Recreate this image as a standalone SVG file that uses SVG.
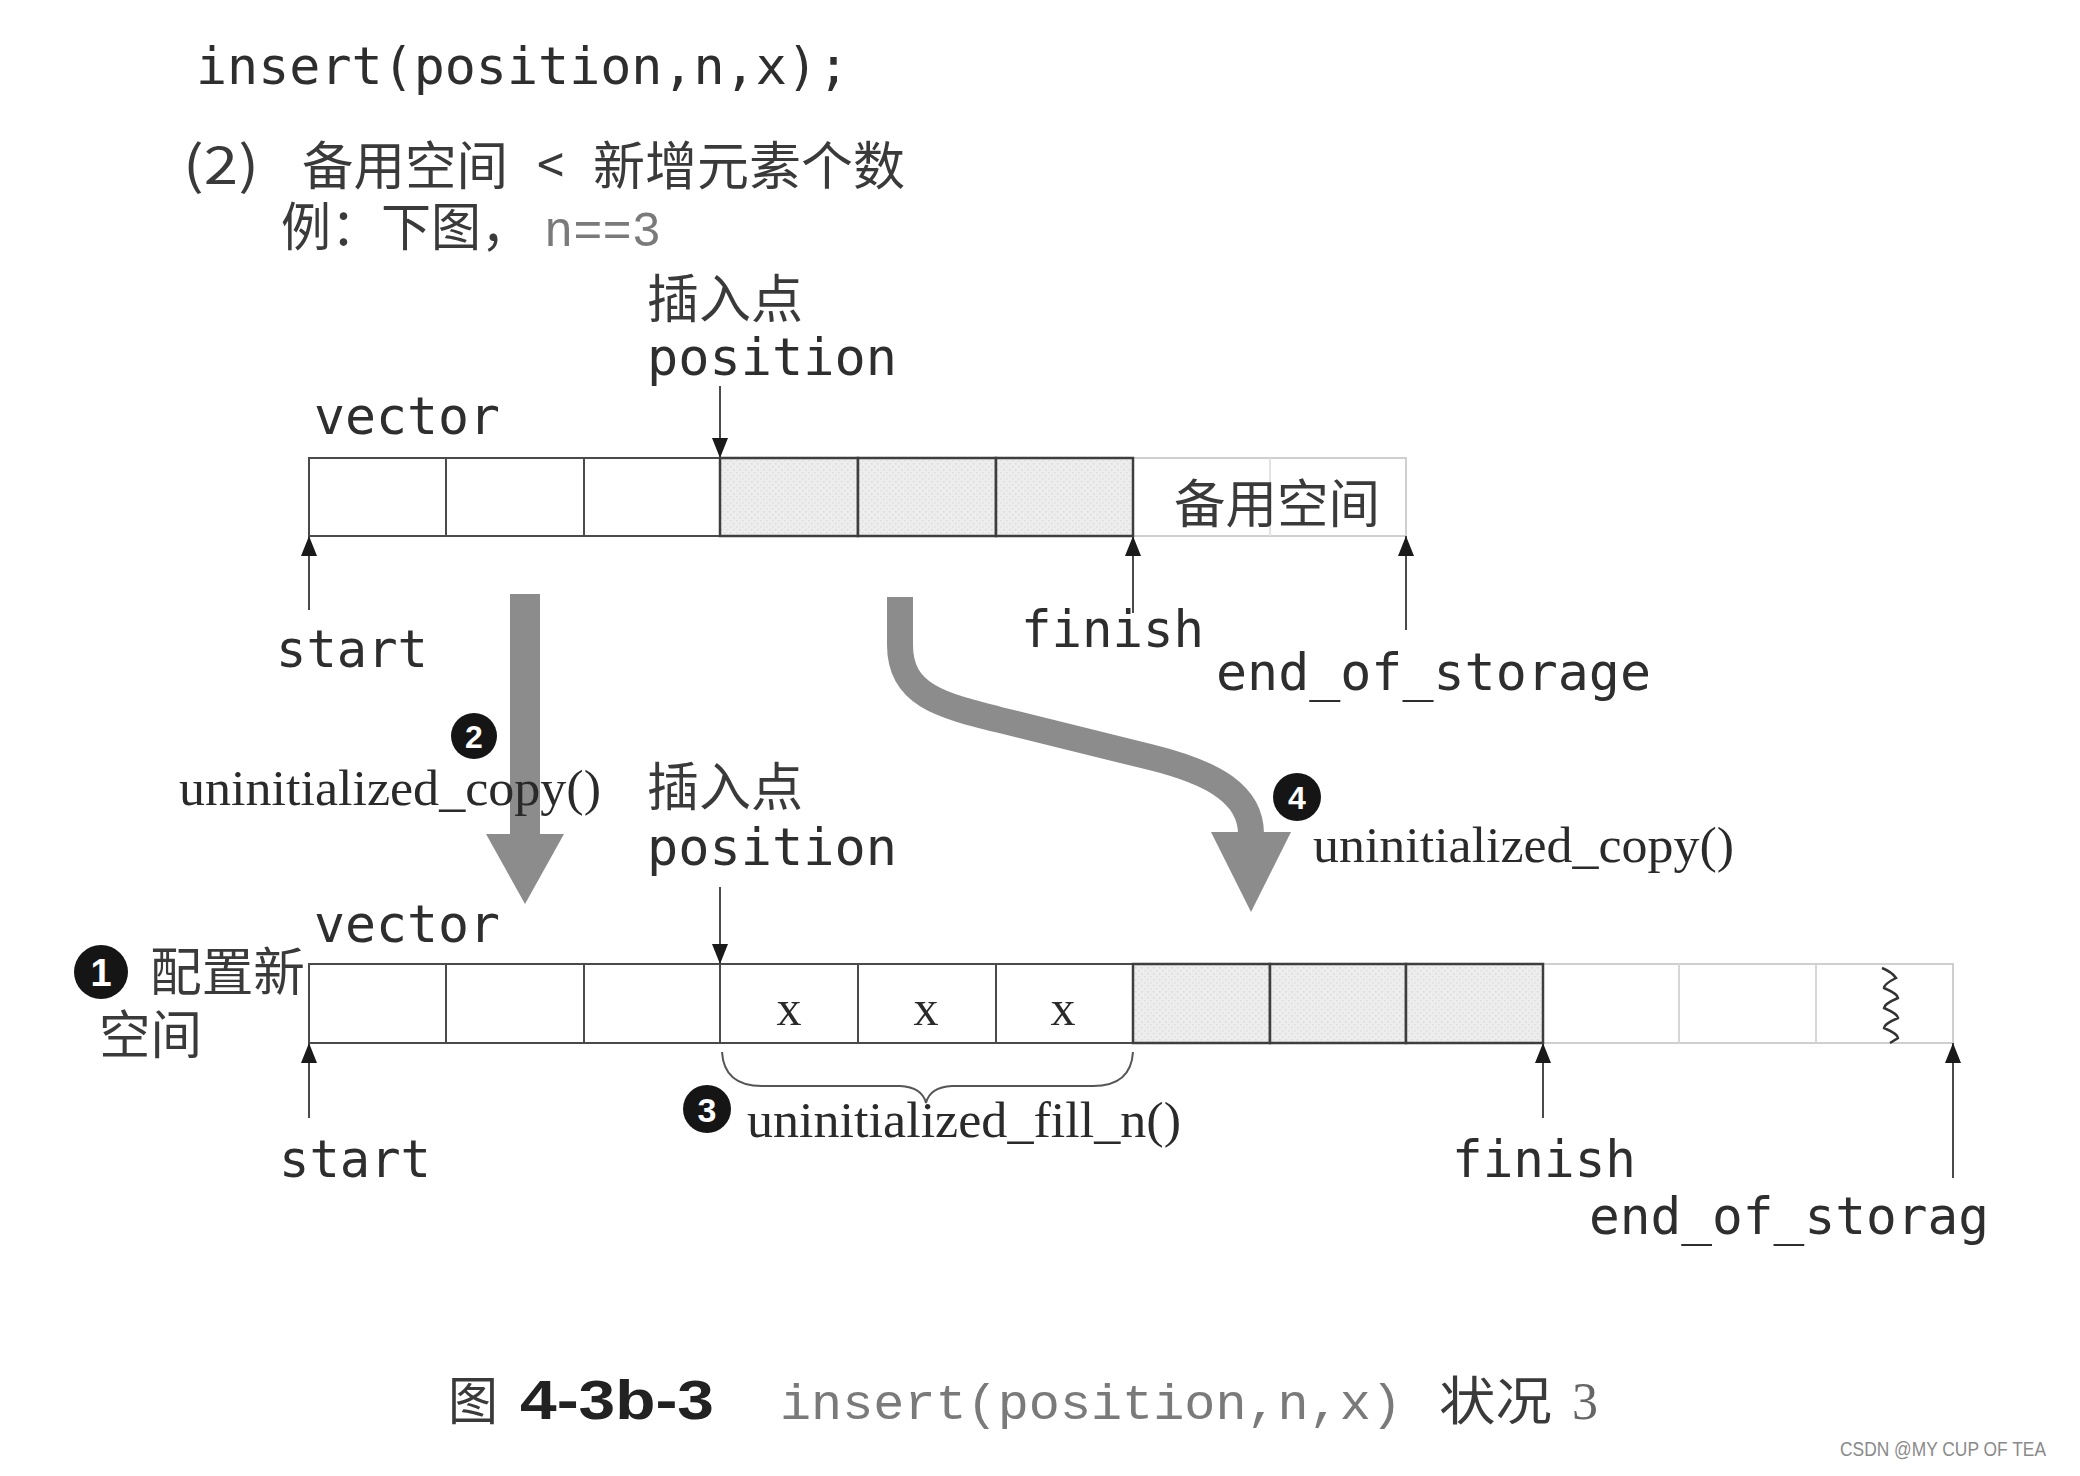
<svg xmlns="http://www.w3.org/2000/svg" width="2080" height="1476" viewBox="0 0 2080 1476">
<style>
  .mono { font-family: "DejaVu Sans Mono", "Liberation Mono", monospace; font-size: 52px; fill: #2e2e2e; }
  .cjk { font-family: "Noto Sans CJK SC", "Noto Sans", sans-serif; font-size: 52px; fill: #3a3a3a; }
  .serif { font-family: "Liberation Serif", "Times New Roman", serif; font-size: 50px; fill: #2a2a2a; }
  .cell { fill: #ffffff; stroke: #4a4a4a; stroke-width: 2; }
  .shade { fill: url(#dots); stroke: #3e3e3e; stroke-width: 2.5; }
  .faint { fill: #ffffff; stroke: #cfcfcf; stroke-width: 2; }
  .ptr { stroke: #4a4a4a; stroke-width: 2; fill: none; }
  .big { fill: #8c8c8c; }
  .badge { fill: #151515; }
  .badgenum { font-family: "Liberation Sans", Arial, sans-serif; font-weight: bold; fill: #ffffff; text-anchor: middle; }
</style>
<defs>
  <pattern id="dots" width="6" height="6" patternUnits="userSpaceOnUse">
    <rect width="6" height="6" fill="#ededed"/>
    <rect x="1" y="1" width="1.5" height="1.5" fill="#d9d9d9"/>
    <rect x="4" y="4" width="1.5" height="1.5" fill="#dedede"/>
  </pattern>
  <marker id="ah" viewBox="0 0 20 16" refX="20" refY="8" markerWidth="20" markerHeight="16" markerUnits="userSpaceOnUse" orient="auto">
    <path d="M0,0 L20,8 L0,16 z" fill="#1a1a1a"/>
  </marker>
</defs>

<rect width="2080" height="1476" fill="#ffffff"/>

<!-- header texts -->
<g id="header">
  <text class="mono" x="196" y="84" font-size="55" textLength="653" lengthAdjust="spacingAndGlyphs" fill="#222">insert(position,n,x);</text>
  <text class="cjk" x="183" y="184" font-size="46" textLength="76" lengthAdjust="spacingAndGlyphs" fill="#8a8a8a">(2)</text>
  <text class="cjk" x="302" y="185" font-size="52" textLength="206" lengthAdjust="spacingAndGlyphs">备用空间</text>
  <text class="cjk" x="537" y="184" font-size="46" textLength="27" lengthAdjust="spacingAndGlyphs">&lt;</text>
  <text class="cjk" x="593" y="185" font-size="52" textLength="312" lengthAdjust="spacingAndGlyphs">新增元素个数</text>
  <text class="cjk" x="281" y="246" font-size="50" textLength="250" lengthAdjust="spacingAndGlyphs">例：下图，</text>
  <text x="544" y="246" font-family="Liberation Mono, monospace" font-size="50" textLength="117" lengthAdjust="spacingAndGlyphs" fill="#7a7a7a">n==3</text>
</g>

<!-- upper vector -->
<g id="vec1">
  <text class="mono" x="314" y="434" textLength="186" lengthAdjust="spacingAndGlyphs">vector</text>
  <rect class="faint" x="1133" y="458" width="273" height="78"/>
  <line x1="1270" y1="458" x2="1270" y2="536" stroke="#e2e2e2" stroke-width="2"/>
  <rect class="cell" x="309" y="458" width="137" height="78"/>
  <rect class="cell" x="446" y="458" width="138" height="78"/>
  <rect class="cell" x="584" y="458" width="136" height="78"/>
  <rect class="shade" x="720" y="458" width="138" height="78"/>
  <rect class="shade" x="858" y="458" width="138" height="78"/>
  <rect class="shade" x="996" y="458" width="137" height="78"/>
  <text class="cjk" x="1174" y="523" font-size="52" textLength="206" lengthAdjust="spacingAndGlyphs" fill="#555">备用空间</text>
</g>

<g id="label-pos1">
  <text class="cjk" x="647" y="318" textLength="156" lengthAdjust="spacingAndGlyphs">插入点</text>
  <text class="mono" x="647" y="375" textLength="250" lengthAdjust="spacingAndGlyphs">position</text>
</g>
<g id="label-start1"><text class="mono" x="276" y="667" textLength="152" lengthAdjust="spacingAndGlyphs">start</text></g>
<g id="label-finish1"><text class="mono" x="1021" y="647" textLength="183" lengthAdjust="spacingAndGlyphs">finish</text></g>
<g id="label-eos1"><text class="mono" x="1216" y="690" textLength="435" lengthAdjust="spacingAndGlyphs">end_of_storage</text></g>

<!-- lower vector -->
<g id="vec2">
  <text class="mono" x="314" y="942" textLength="186" lengthAdjust="spacingAndGlyphs">vector</text>
  <rect class="faint" x="1543" y="964" width="410" height="79"/>
  <line x1="1679" y1="964" x2="1679" y2="1043" stroke="#d6d6d6" stroke-width="2"/>
  <line x1="1816" y1="964" x2="1816" y2="1043" stroke="#d6d6d6" stroke-width="2"/>
  <rect class="cell" x="309" y="964" width="137" height="79"/>
  <rect class="cell" x="446" y="964" width="138" height="79"/>
  <rect class="cell" x="584" y="964" width="136" height="79"/>
  <rect class="cell" x="720" y="964" width="138" height="79"/>
  <rect class="cell" x="858" y="964" width="138" height="79"/>
  <rect class="cell" x="996" y="964" width="137" height="79"/>
  <rect class="shade" x="1133" y="964" width="137" height="79"/>
  <rect class="shade" x="1270" y="964" width="136" height="79"/>
  <rect class="shade" x="1406" y="964" width="137" height="79"/>
  <path d="M1882,968 Q1892,972 1896,978 Q1884,984 1884,988 Q1898,994 1898,998 Q1884,1004 1884,1008 Q1898,1014 1898,1018 Q1884,1024 1884,1028 Q1898,1034 1898,1038 L1890,1043" fill="none" stroke="#333" stroke-width="2.5"/>
  <text class="serif" x="789" y="1025" font-size="40" text-anchor="middle">x</text>
  <text class="serif" x="926" y="1025" font-size="40" text-anchor="middle">x</text>
  <text class="serif" x="1063" y="1025" font-size="40" text-anchor="middle">x</text>
</g>

<g id="label-new">
  <circle class="badge" cx="101" cy="972" r="27"/>
  <text class="badgenum" x="101" y="986" font-size="38">1</text>
  <text class="cjk" x="150" y="991" textLength="155" lengthAdjust="spacingAndGlyphs">配置新</text>
  <text class="cjk" x="99" y="1054" textLength="103" lengthAdjust="spacingAndGlyphs">空间</text>
</g>
<g id="label-pos2">
  <text class="cjk" x="647" y="806" textLength="156" lengthAdjust="spacingAndGlyphs">插入点</text>
  <text class="mono" x="647" y="865" textLength="250" lengthAdjust="spacingAndGlyphs">position</text>
</g>
<g id="label-start2"><text class="mono" x="279" y="1177" textLength="152" lengthAdjust="spacingAndGlyphs">start</text></g>
<g id="label-finish2"><text class="mono" x="1452" y="1177" textLength="184" lengthAdjust="spacingAndGlyphs">finish</text></g>
<g id="label-eos2"><text class="mono" x="1589" y="1234" textLength="400" lengthAdjust="spacingAndGlyphs">end_of_storag</text></g>

<g id="label-fill">
  <path d="M722,1052 Q724,1086 762,1086 L900,1086 Q922,1087 926,1103 Q930,1087 952,1086 L1093,1086 Q1131,1086 1133,1052" fill="none" stroke="#555" stroke-width="2"/>
  <circle class="badge" cx="707" cy="1109" r="24"/>
  <text class="badgenum" x="707" y="1122" font-size="34">3</text>
  <text class="serif" x="747" y="1137" textLength="434" lengthAdjust="spacingAndGlyphs">uninitialized_fill_n()</text>
</g>

<!-- connectors -->
<g id="connectors">
  <line class="ptr" x1="720" y1="386" x2="720" y2="458" marker-end="url(#ah)"/>
  <line class="ptr" x1="309" y1="610" x2="309" y2="536" marker-end="url(#ah)"/>
  <line class="ptr" x1="1133" y1="613" x2="1133" y2="536" marker-end="url(#ah)"/>
  <line class="ptr" x1="1406" y1="630" x2="1406" y2="536" marker-end="url(#ah)"/>
  <line class="ptr" x1="720" y1="887" x2="720" y2="964" marker-end="url(#ah)"/>
  <line class="ptr" x1="309" y1="1118" x2="309" y2="1043" marker-end="url(#ah)"/>
  <line class="ptr" x1="1543" y1="1118" x2="1543" y2="1043" marker-end="url(#ah)"/>
  <line class="ptr" x1="1953" y1="1178" x2="1953" y2="1043" marker-end="url(#ah)"/>

  <!-- big arrow 2 -->
  <rect class="big" x="510" y="594" width="30" height="242"/>
  <polygon class="big" points="486,834 564,834 525,904"/>
  <!-- big arrow 4 -->
  <path d="M900,597 L900,645 C900,695 940,705 1000,720 L1150,757 C1215,773 1251,795 1251,834" fill="none" stroke="#8c8c8c" stroke-width="26"/>
  <polygon class="big" points="1211,832 1291,832 1251,912"/>
</g>

<g id="label-copy1">
  <circle class="badge" cx="474" cy="736" r="23"/>
  <text class="badgenum" x="474" y="748" font-size="32">2</text>
  <text class="serif" x="179" y="805" textLength="422" lengthAdjust="spacingAndGlyphs">uninitialized_copy()</text>
</g>
<g id="label-copy2">
  <circle class="badge" cx="1297" cy="797" r="24"/>
  <text class="badgenum" x="1297" y="809" font-size="32">4</text>
  <text class="serif" x="1313" y="862" textLength="421" lengthAdjust="spacingAndGlyphs">uninitialized_copy()</text>
</g>

<!-- caption -->
<g id="caption">
  <text class="cjk" x="448" y="1420" textLength="50" lengthAdjust="spacingAndGlyphs" fill="#333">图</text>
  <text x="520" y="1419" font-family="Liberation Sans, Arial, sans-serif" font-weight="bold" font-size="56" textLength="194" lengthAdjust="spacingAndGlyphs" fill="#222">4-3b-3</text>
  <text x="780" y="1419" font-family="Liberation Mono, monospace" font-size="50" textLength="622" lengthAdjust="spacingAndGlyphs" fill="#7a7a7a">insert(position,n,x)</text>
  <text class="cjk" x="1439" y="1420" textLength="113" lengthAdjust="spacingAndGlyphs" fill="#444">状况</text>
  <text x="1572" y="1419" font-family="Liberation Serif, serif" font-size="52" fill="#666">3</text>
</g>
<g id="watermark">
  <text x="1840" y="1456" font-family="Liberation Sans, Arial, sans-serif" font-size="20" textLength="206" lengthAdjust="spacingAndGlyphs" fill="#8a8a8a">CSDN @MY CUP OF TEA</text>
</g>
</svg>
